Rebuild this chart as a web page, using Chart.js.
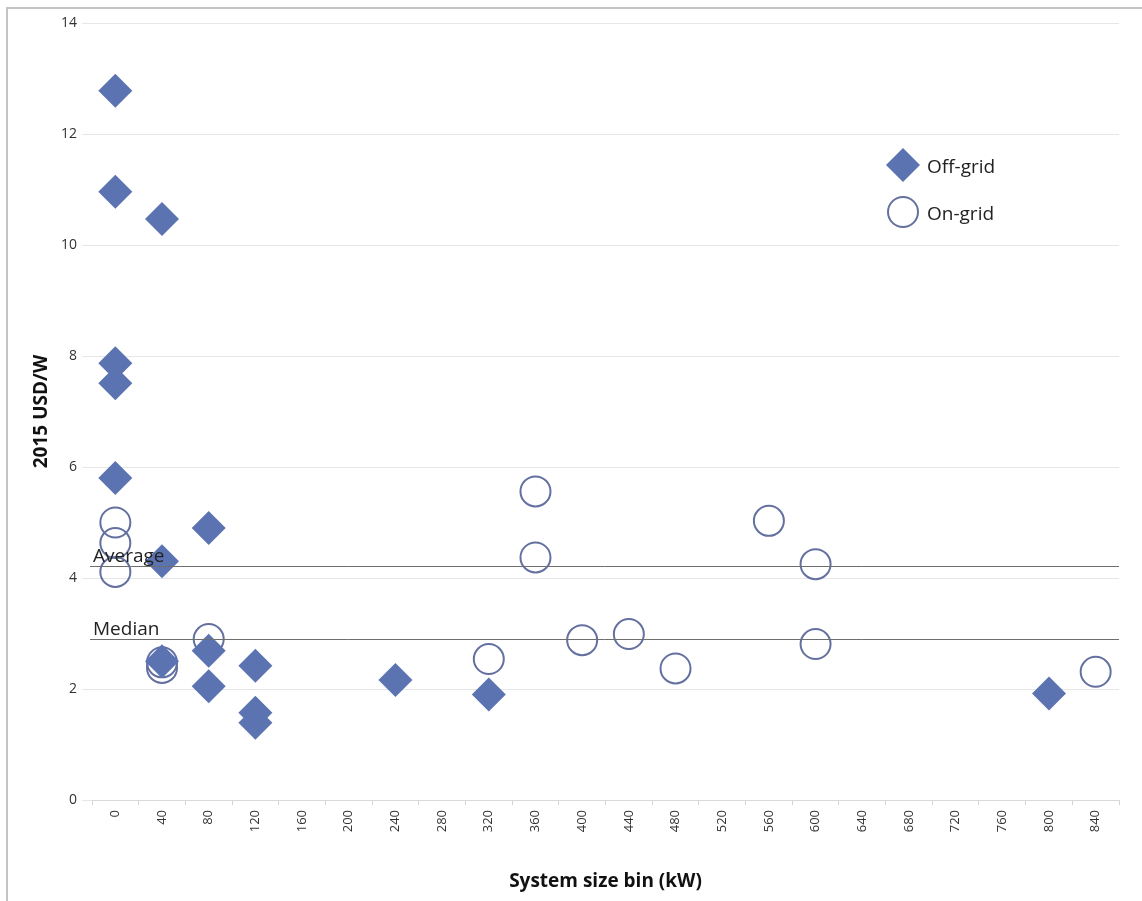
<!DOCTYPE html>
<html lang="en">
<head>
    <meta charset="UTF-8">
    <title>Installed cost by system size bin</title>
    <script src="https://cdn.jsdelivr.net/npm/chart.js@4.4.1/dist/chart.umd.min.js"></script>
    <style>
        body { margin: 0; background: #fff; }
        .wrap { position: relative; width: 1142px; height: 901px; }
        .frame {
            position: absolute; left: 6px; top: 7px; right: 0; bottom: 0;
            border-left: 2px solid #c4c4c4; border-top: 2px solid #c4c4c4;
            pointer-events: none;
        }
    </style>
</head>
<body>
    <div class="wrap">
        <canvas id="costChart" width="1142" height="901"></canvas>
        <div class="frame"></div>
    </div>

    <script>
        // x categories (kW bins)
        const sizeBins = ['0', '40', '80', '120', '160', '200', '240', '280', '320', '360', '400',
                          '440', '480', '520', '560', '600', '640', '680', '720', '760', '800', '840'];

        // Off-grid systems (diamonds)
        const offGridBin  = ['0', '0', '0', '0', '0', '40', '40', '40', '80', '80', '80', '120', '120', '120', '240', '320', '800'];
        const offGridCost = [12.78, 10.96, 7.87, 7.51, 5.80, 10.47, 4.30, 2.50, 4.90, 2.69, 2.05, 2.42, 1.57, 1.39, 2.16, 1.90, 1.92];

        // On-grid systems (circles)
        const onGridBin  = ['0', '0', '0', '40', '40', '80', '320', '360', '360', '400', '440', '480', '560', '600', '600', '840'];
        const onGridCost = [5.00, 4.63, 4.11, 2.48, 2.38, 2.90, 2.54, 5.56, 4.37, 2.88, 2.99, 2.37, 5.03, 4.25, 2.81, 2.31];

        // reference lines
        const refLabels = ['Average', 'Median'];
        const refValues = [4.22, 2.90];

        const FONT = "'Open Sans', 'Noto Sans', sans-serif";
        const DIAMOND = '#5b73b1';
        const RING = '#64709f';

        function toPoints(bins, vals) {
            return bins.map((b, i) => ({ x: b, y: vals[i] }));
        }

        // average / median lines + in-chart legend
        const overlayPlugin = {
            id: 'overlay',
            afterDatasetsDraw(chart) {
                const { ctx, chartArea, scales } = chart;
                ctx.save();
                ctx.strokeStyle = '#6e6e6e';
                ctx.lineWidth = 1;
                ctx.fillStyle = '#222';
                ctx.font = '19px ' + FONT;
                ctx.textBaseline = 'alphabetic';
                refValues.forEach((v, i) => {
                    const y = Math.round(scales.y.getPixelForValue(v)) + 0.5;
                    ctx.beginPath();
                    ctx.moveTo(chartArea.left - 2, y);
                    ctx.lineTo(chartArea.right, y);
                    ctx.stroke();
                    ctx.fillText(refLabels[i], chartArea.left + 1, y - 5);
                });

                // legend
                const items = [
                    { text: 'Off-grid', style: 'rectRot', r: 17, fill: DIAMOND, stroke: DIAMOND, bw: 0, y: 165 },
                    { text: 'On-grid', style: 'circle', r: 15, fill: 'rgba(0,0,0,0)', stroke: RING, bw: 2, y: 212 }
                ];
                items.forEach(it => {
                    ctx.fillStyle = it.fill;
                    ctx.strokeStyle = it.stroke;
                    ctx.lineWidth = it.bw;
                    Chart.helpers.drawPoint(ctx, { pointStyle: it.style, radius: it.r, borderWidth: it.bw, rotation: 0 }, 903, it.y);
                    ctx.fillStyle = '#222';
                    ctx.textBaseline = 'middle';
                    ctx.fillText(it.text, 927, it.y + 3);
                });
                ctx.restore();
            }
        };

        const ctx = document.getElementById('costChart').getContext('2d');
        new Chart(ctx, {
            type: 'scatter',
            data: {
                datasets: [{
                    label: 'Off-grid',
                    data: toPoints(offGridBin, offGridCost),
                    pointStyle: 'rectRot',
                    pointRadius: 17,
                    pointBackgroundColor: DIAMOND,
                    pointBorderColor: DIAMOND,
                    pointBorderWidth: 0
                }, {
                    label: 'On-grid',
                    data: toPoints(onGridBin, onGridCost),
                    pointStyle: 'circle',
                    pointRadius: 15,
                    pointBackgroundColor: 'rgba(0,0,0,0)',
                    pointBorderColor: RING,
                    pointBorderWidth: 2
                }]
            },
            options: {
                responsive: false,
                animation: false,
                events: [],
                layout: { padding: { top: 23, right: 23, left: 0, bottom: 0 } },
                plugins: {
                    legend: { display: false },
                    tooltip: { enabled: false }
                },
                scales: {
                    x: {
                        type: 'category',
                        labels: sizeBins,
                        offset: true,
                        grid: { offset: true, drawOnChartArea: false, tickLength: 5, color: '#d4d4d4' },
                        border: { color: '#d9d9d9' },
                        ticks: {
                            autoSkip: false, minRotation: 90, maxRotation: 90, padding: 5,
                            color: '#333', font: { family: FONT, size: 13 }
                        },
                        title: {
                            display: true, text: 'System size bin (kW)', color: '#111',
                            font: { family: FONT, size: 19, weight: 'bold' },
                            padding: { top: 0, bottom: 8 }
                        },
                        afterFit: s => { s.height = 101; }
                    },
                    y: {
                        min: 0, max: 14,
                        grid: { color: '#e6e6e6', tickLength: 10 },
                        border: { display: false },
                        ticks: {
                            stepSize: 2, padding: 5,
                            color: '#333', font: { family: FONT, size: 14 }
                        },
                        title: {
                            display: true, text: '2015 USD/W', color: '#111',
                            font: { family: FONT, size: 19, weight: 'bold' },
                            padding: { top: 30, bottom: 0 }
                        },
                        afterFit: s => { s.width = 92; }
                    }
                }
            },
            plugins: [overlayPlugin]
        });
    </script>
</body>
</html>
